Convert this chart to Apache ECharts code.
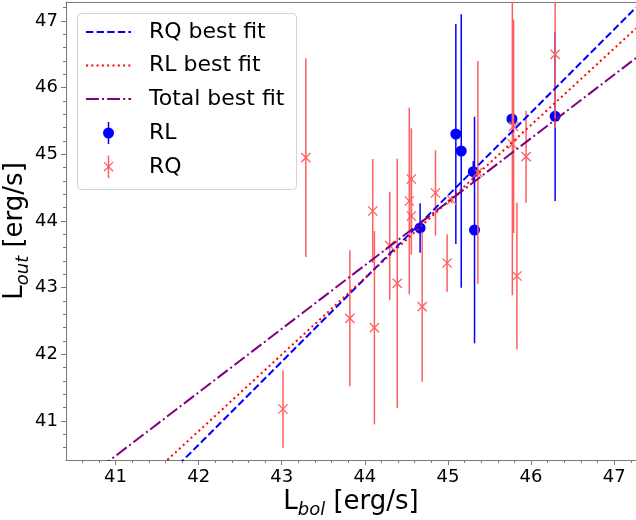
<!DOCTYPE html>
<html>
<head>
<meta charset="utf-8">
<script src="https://cdn.jsdelivr.net/npm/echarts@6/dist/echarts.min.js"></script>
<style>html,body{margin:0;padding:0;background:#fff;}#c{width:636px;height:520px;}</style>
</head>
<body>
<div id="c"></div>
<script>
// ---- data ----
const xTicks = [41, 42, 43, 44, 45, 46, 47];
const yTicks = [41, 42, 43, 44, 45, 46, 47];
const xRange = [40.404, 47.263];
const yRange = [40.415, 47.285];

// RL sources (blue circles)
const rlX   = [45.095, 45.16, 45.305, 45.32, 45.77, 46.29, 44.665];
const rlY   = [45.305, 45.05, 44.74, 43.865, 45.53, 45.57, 43.895];
const rlErr = [1.65, 2.05, 0.16, 1.70, 0.05, 1.27, 0.37];

// RQ sources (red crosses)
const rqX   = [43.015, 43.29, 43.82, 44.095, 44.115, 44.30, 44.39, 44.535, 44.56, 44.56, 44.69, 44.85, 44.99, 45.045, 45.36, 45.775, 45.79, 45.83, 45.94, 46.29];
const rqY   = [41.18, 44.95, 42.54, 44.15, 42.40, 43.63, 43.065, 44.30, 44.63, 44.075, 42.715, 44.42, 43.37, 44.315, 44.73, 45.155, 45.42, 43.175, 44.965, 46.50];
const rqErr = [0.58, 1.49, 1.02, 0.78, 1.45, 0.81, 1.87, 1.40, 0.76, 0.58, 1.125, 0.64, 0.43, 0.05, 1.67, 2.27, 1.60, 1.10, 0.69, 1.10];

// best-fit lines: slope and value at x = 44
const fitNames  = ['RQ best fit', 'RL best fit', 'Total best fit'];
const fitSlope  = [1.246, 1.148, 0.953];
const fitAt44   = [43.136, 43.144, 43.335];

// ---- styling ----
const FONT = 'DejaVu Sans';
const fitColors = ['#0000ff', '#ff0000', '#800080'];
const fitDash = [[7.4, 3.2], [2, 3.3], [12.8, 3.2, 2, 3.2]];
const RQ_COLOR = '#ff5e5e';
const RL_COLOR = '#0000ff';
const AXIS_COLOR = '#7a7a7a';

function minorValues(range, step) {
  const out = [];
  const start = Math.ceil(range[0] / step - 1e-9);
  const end = Math.floor(range[1] / step + 1e-9);
  for (let k = start; k <= end; k++) out.push(+(k * step).toFixed(4));
  return out;
}
const xMinor = minorValues(xRange, 0.2);
const yMinor = minorValues(yRange, 0.2);

const chart = echarts.init(document.getElementById('c'), null, {renderer: 'canvas'});

const fitSeries = fitNames.map((name, i) => ({
  name: name,
  type: 'line',
  xAxisIndex: 0, yAxisIndex: 0,
  showSymbol: false, symbol: 'none',
  clip: true,
  z: 5,
  lineStyle: {color: fitColors[i], width: 2, type: fitDash[i]},
  data: xRange.map(x => [x, fitAt44[i] + fitSlope[i] * (x - 44)]),
  silent: true,
  animation: false
}));

function errRender(color, cross) {
  return function (params, api) {
    const x = api.value(0), y = api.value(1), e = api.value(2);
    const p0 = api.coord([x, y - e]);
    const p1 = api.coord([x, y + e]);
    const c = api.coord([x, y]);
    const children = [{
      type: 'line',
      shape: {x1: p0[0], y1: p0[1], x2: p1[0], y2: p1[1]},
      style: {stroke: color, lineWidth: 1.5}
    }];
    if (cross) {
      const h = 4.6;
      children.push({type: 'line', shape: {x1: c[0]-h, y1: c[1]-h, x2: c[0]+h, y2: c[1]+h}, style: {stroke: color, lineWidth: 1.3}});
      children.push({type: 'line', shape: {x1: c[0]-h, y1: c[1]+h, x2: c[0]+h, y2: c[1]-h}, style: {stroke: color, lineWidth: 1.3}});
    }
    return {type: 'group', children: children};
  };
}

const rlData = rlX.map((x, i) => [x, rlY[i], rlErr[i]]);
const rqData = rqX.map((x, i) => [x, rqY[i], rqErr[i]]);

const titleRich = {
  a: {fontFamily: FONT, fontSize: 26, color: '#000', lineHeight: 30, verticalAlign: 'bottom', padding: [0, 0, 4, 0]},
  b: {fontFamily: FONT, fontSize: 18, fontStyle: 'italic', color: '#000', lineHeight: 22, verticalAlign: 'bottom'}
};

const tickLabel = {fontFamily: FONT, fontSize: 18, color: '#000'};

const option = {
  animation: false,
  backgroundColor: '#fff',
  grid: {left: 66, right: 0, top: 2, bottom: 60, containLabel: false, outerBoundsMode: 'none'},
  xAxis: [
    {
      type: 'value', min: xRange[0], max: xRange[1], position: 'bottom',
      name: '{a|L}{b|bol}{a| [erg/s]}',
      nameLocation: 'middle', nameGap: 29, nameMoveOverlap: false,
      nameTextStyle: {rich: titleRich},
      axisLine: {show: true, lineStyle: {color: AXIS_COLOR, width: 1}},
      axisTick: {show: true, customValues: xTicks, length: 5, inside: false, lineStyle: {color: AXIS_COLOR, width: 1}},
      axisLabel: Object.assign({customValues: xTicks, margin: 8}, tickLabel),
      splitLine: {show: false}
    },
    {
      type: 'value', min: xRange[0], max: xRange[1], position: 'bottom',
      axisLine: {show: false},
      axisTick: {show: true, customValues: xMinor, length: 3, lineStyle: {color: AXIS_COLOR, width: 1}},
      axisLabel: {show: false},
      splitLine: {show: false}
    },
    {
      type: 'value', min: xRange[0], max: xRange[1], position: 'top',
      axisLine: {show: true, lineStyle: {color: AXIS_COLOR, width: 1}},
      axisTick: {show: false}, axisLabel: {show: false}, splitLine: {show: false}
    }
  ],
  yAxis: [
    {
      type: 'value', min: yRange[0], max: yRange[1], position: 'left',
      name: '{a|L}{b|out}{a| [erg/s]}',
      nameLocation: 'middle', nameGap: 34, nameRotate: 90, nameMoveOverlap: false,
      nameTextStyle: {rich: titleRich},
      axisLine: {show: true, lineStyle: {color: AXIS_COLOR, width: 1}},
      axisTick: {show: true, customValues: yTicks, length: 5, lineStyle: {color: AXIS_COLOR, width: 1}},
      axisLabel: Object.assign({customValues: yTicks, margin: 8}, tickLabel),
      splitLine: {show: false}
    },
    {
      type: 'value', min: yRange[0], max: yRange[1], position: 'left',
      axisLine: {show: false},
      axisTick: {show: true, customValues: yMinor, length: 3, lineStyle: {color: AXIS_COLOR, width: 1}},
      axisLabel: {show: false},
      splitLine: {show: false}
    }
  ],
  series: [
    {
      name: 'RL', type: 'custom', xAxisIndex: 0, yAxisIndex: 0, clip: true, z: 2,
      renderItem: errRender(RL_COLOR, false),
      encode: {x: 0, y: 1},
      data: rlData
    },
    {
      name: 'RL dots', type: 'scatter', xAxisIndex: 0, yAxisIndex: 0, z: 3,
      symbol: 'circle', symbolSize: 11,
      itemStyle: {color: RL_COLOR, opacity: 1},
      data: rlData.map(d => [d[0], d[1]]),
      silent: true
    },
    {
      name: 'RQ', type: 'custom', xAxisIndex: 0, yAxisIndex: 0, clip: true, z: 4,
      renderItem: errRender(RQ_COLOR, true),
      encode: {x: 0, y: 1},
      data: rqData
    }
  ].concat(fitSeries),
  graphic: [
    {type: 'rect', z: 100, shape: {x: 77.5, y: 13.5, width: 219, height: 176, r: 4},
      style: {fill: 'rgba(255,255,255,0.85)', stroke: '#d4d4d4', lineWidth: 1}},
    {type: 'line', z: 101, shape: {x1: 86, y1: 32, x2: 131, y2: 32}, style: {stroke: fitColors[0], lineWidth: 2, lineDash: fitDash[0]}},
    {type: 'line', z: 101, shape: {x1: 86, y1: 65.5, x2: 131, y2: 65.5}, style: {stroke: fitColors[1], lineWidth: 2, lineDash: fitDash[1]}},
    {type: 'line', z: 101, shape: {x1: 86, y1: 99, x2: 131, y2: 99}, style: {stroke: fitColors[2], lineWidth: 2, lineDash: fitDash[2]}},
    {type: 'line', z: 101, shape: {x1: 108.5, y1: 122, x2: 108.5, y2: 144}, style: {stroke: RL_COLOR, lineWidth: 1.5}},
    {type: 'circle', z: 102, shape: {cx: 108.5, cy: 133, r: 5.5}, style: {fill: RL_COLOR}},
    {type: 'line', z: 101, shape: {x1: 108.5, y1: 155.5, x2: 108.5, y2: 178}, style: {stroke: RQ_COLOR, lineWidth: 1.5}},
    {type: 'line', z: 101, shape: {x1: 103.9, y1: 162.1, x2: 113.1, y2: 171.3}, style: {stroke: RQ_COLOR, lineWidth: 1.3}},
    {type: 'line', z: 101, shape: {x1: 103.9, y1: 171.3, x2: 113.1, y2: 162.1}, style: {stroke: RQ_COLOR, lineWidth: 1.3}},
    {type: 'text', z: 101, style: {x: 149, y: 32, text: fitNames[0], fontFamily: FONT, fontSize: 22, fill: '#000', verticalAlign: 'middle'}},
    {type: 'text', z: 101, style: {x: 149, y: 65.5, text: fitNames[1], fontFamily: FONT, fontSize: 22, fill: '#000', verticalAlign: 'middle'}},
    {type: 'text', z: 101, style: {x: 149, y: 99, text: fitNames[2], fontFamily: FONT, fontSize: 22, fill: '#000', verticalAlign: 'middle'}},
    {type: 'text', z: 101, style: {x: 149, y: 133, text: 'RL', fontFamily: FONT, fontSize: 22, fill: '#000', verticalAlign: 'middle'}},
    {type: 'text', z: 101, style: {x: 149, y: 167, text: 'RQ', fontFamily: FONT, fontSize: 22, fill: '#000', verticalAlign: 'middle'}}
  ]
};

chart.setOption(option);
</script>
</body>
</html>
